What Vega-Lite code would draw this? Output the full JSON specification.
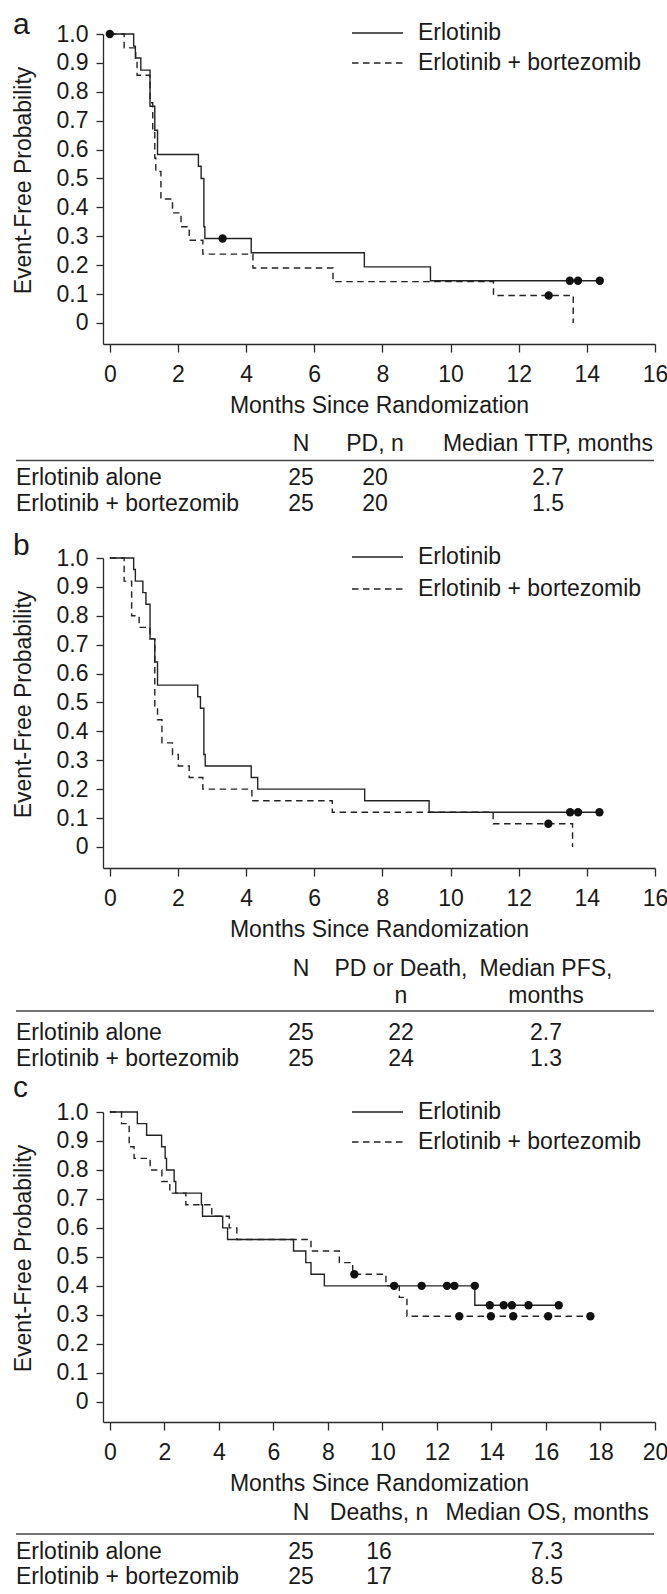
{
  "$schema": "https://vega.github.io/schema/vega-lite/v6.json",
  "padding": {"left": 12, "top": 10, "right": 0, "bottom": 0},
  "background": "white",
  "datasets": {
    "curves": [
      {"panel":"a","arm":"Erlotinib","t":0,"s":1},
      {"panel":"a","arm":"Erlotinib","t":0.70,"s":0.958},
      {"panel":"a","arm":"Erlotinib","t":0.75,"s":0.917},
      {"panel":"a","arm":"Erlotinib","t":0.91,"s":0.875},
      {"panel":"a","arm":"Erlotinib","t":1.18,"s":0.75},
      {"panel":"a","arm":"Erlotinib","t":1.32,"s":0.667},
      {"panel":"a","arm":"Erlotinib","t":1.40,"s":0.583},
      {"panel":"a","arm":"Erlotinib","t":2.60,"s":0.542},
      {"panel":"a","arm":"Erlotinib","t":2.68,"s":0.5},
      {"panel":"a","arm":"Erlotinib","t":2.76,"s":0.333},
      {"panel":"a","arm":"Erlotinib","t":2.79,"s":0.292},
      {"panel":"a","arm":"Erlotinib","t":4.15,"s":0.243},
      {"panel":"a","arm":"Erlotinib","t":7.47,"s":0.194},
      {"panel":"a","arm":"Erlotinib","t":9.41,"s":0.146},
      {"panel":"a","arm":"Erlotinib","t":14.38,"s":0.146},
      {"panel":"a","arm":"Erlotinib + bortezomib","t":0,"s":1},
      {"panel":"a","arm":"Erlotinib + bortezomib","t":0.42,"s":0.952},
      {"panel":"a","arm":"Erlotinib + bortezomib","t":0.76,"s":0.905},
      {"panel":"a","arm":"Erlotinib + bortezomib","t":0.80,"s":0.857},
      {"panel":"a","arm":"Erlotinib + bortezomib","t":1.18,"s":0.762},
      {"panel":"a","arm":"Erlotinib + bortezomib","t":1.26,"s":0.667},
      {"panel":"a","arm":"Erlotinib + bortezomib","t":1.32,"s":0.571},
      {"panel":"a","arm":"Erlotinib + bortezomib","t":1.35,"s":0.524},
      {"panel":"a","arm":"Erlotinib + bortezomib","t":1.50,"s":0.429},
      {"panel":"a","arm":"Erlotinib + bortezomib","t":1.84,"s":0.381},
      {"panel":"a","arm":"Erlotinib + bortezomib","t":2.09,"s":0.333},
      {"panel":"a","arm":"Erlotinib + bortezomib","t":2.33,"s":0.286},
      {"panel":"a","arm":"Erlotinib + bortezomib","t":2.73,"s":0.238},
      {"panel":"a","arm":"Erlotinib + bortezomib","t":4.20,"s":0.190},
      {"panel":"a","arm":"Erlotinib + bortezomib","t":6.55,"s":0.143},
      {"panel":"a","arm":"Erlotinib + bortezomib","t":11.26,"s":0.095},
      {"panel":"a","arm":"Erlotinib + bortezomib","t":13.60,"s":0},
      {"panel":"b","arm":"Erlotinib","t":0,"s":1},
      {"panel":"b","arm":"Erlotinib","t":0.70,"s":0.96},
      {"panel":"b","arm":"Erlotinib","t":0.75,"s":0.92},
      {"panel":"b","arm":"Erlotinib","t":0.97,"s":0.88},
      {"panel":"b","arm":"Erlotinib","t":1.06,"s":0.84},
      {"panel":"b","arm":"Erlotinib","t":1.18,"s":0.72},
      {"panel":"b","arm":"Erlotinib","t":1.32,"s":0.64},
      {"panel":"b","arm":"Erlotinib","t":1.40,"s":0.56},
      {"panel":"b","arm":"Erlotinib","t":2.58,"s":0.52},
      {"panel":"b","arm":"Erlotinib","t":2.66,"s":0.48},
      {"panel":"b","arm":"Erlotinib","t":2.76,"s":0.32},
      {"panel":"b","arm":"Erlotinib","t":2.80,"s":0.28},
      {"panel":"b","arm":"Erlotinib","t":4.15,"s":0.24},
      {"panel":"b","arm":"Erlotinib","t":4.34,"s":0.20},
      {"panel":"b","arm":"Erlotinib","t":7.48,"s":0.16},
      {"panel":"b","arm":"Erlotinib","t":9.37,"s":0.12},
      {"panel":"b","arm":"Erlotinib","t":14.37,"s":0.12},
      {"panel":"b","arm":"Erlotinib + bortezomib","t":0,"s":1},
      {"panel":"b","arm":"Erlotinib + bortezomib","t":0.42,"s":0.92},
      {"panel":"b","arm":"Erlotinib + bortezomib","t":0.64,"s":0.80},
      {"panel":"b","arm":"Erlotinib + bortezomib","t":0.86,"s":0.76},
      {"panel":"b","arm":"Erlotinib + bortezomib","t":1.18,"s":0.72},
      {"panel":"b","arm":"Erlotinib + bortezomib","t":1.32,"s":0.48},
      {"panel":"b","arm":"Erlotinib + bortezomib","t":1.40,"s":0.44},
      {"panel":"b","arm":"Erlotinib + bortezomib","t":1.53,"s":0.36},
      {"panel":"b","arm":"Erlotinib + bortezomib","t":1.84,"s":0.32},
      {"panel":"b","arm":"Erlotinib + bortezomib","t":2.01,"s":0.28},
      {"panel":"b","arm":"Erlotinib + bortezomib","t":2.33,"s":0.24},
      {"panel":"b","arm":"Erlotinib + bortezomib","t":2.73,"s":0.20},
      {"panel":"b","arm":"Erlotinib + bortezomib","t":4.17,"s":0.16},
      {"panel":"b","arm":"Erlotinib + bortezomib","t":6.53,"s":0.12},
      {"panel":"b","arm":"Erlotinib + bortezomib","t":11.25,"s":0.08},
      {"panel":"b","arm":"Erlotinib + bortezomib","t":13.58,"s":0},
      {"panel":"c","arm":"Erlotinib","t":0,"s":1},
      {"panel":"c","arm":"Erlotinib","t":1.01,"s":0.96},
      {"panel":"c","arm":"Erlotinib","t":1.35,"s":0.92},
      {"panel":"c","arm":"Erlotinib","t":1.90,"s":0.88},
      {"panel":"c","arm":"Erlotinib","t":2.03,"s":0.84},
      {"panel":"c","arm":"Erlotinib","t":2.08,"s":0.80},
      {"panel":"c","arm":"Erlotinib","t":2.36,"s":0.76},
      {"panel":"c","arm":"Erlotinib","t":2.42,"s":0.72},
      {"panel":"c","arm":"Erlotinib","t":3.36,"s":0.68},
      {"panel":"c","arm":"Erlotinib","t":3.40,"s":0.64},
      {"panel":"c","arm":"Erlotinib","t":4.14,"s":0.60},
      {"panel":"c","arm":"Erlotinib","t":4.32,"s":0.56},
      {"panel":"c","arm":"Erlotinib","t":6.74,"s":0.52},
      {"panel":"c","arm":"Erlotinib","t":7.19,"s":0.48},
      {"panel":"c","arm":"Erlotinib","t":7.38,"s":0.44},
      {"panel":"c","arm":"Erlotinib","t":7.87,"s":0.40},
      {"panel":"c","arm":"Erlotinib","t":13.39,"s":0.333},
      {"panel":"c","arm":"Erlotinib","t":16.47,"s":0.333},
      {"panel":"c","arm":"Erlotinib + bortezomib","t":0,"s":1},
      {"panel":"c","arm":"Erlotinib + bortezomib","t":0.43,"s":0.96},
      {"panel":"c","arm":"Erlotinib + bortezomib","t":0.71,"s":0.88},
      {"panel":"c","arm":"Erlotinib + bortezomib","t":0.89,"s":0.84},
      {"panel":"c","arm":"Erlotinib + bortezomib","t":1.48,"s":0.80},
      {"panel":"c","arm":"Erlotinib + bortezomib","t":1.91,"s":0.76},
      {"panel":"c","arm":"Erlotinib + bortezomib","t":2.20,"s":0.72},
      {"panel":"c","arm":"Erlotinib + bortezomib","t":2.79,"s":0.68},
      {"panel":"c","arm":"Erlotinib + bortezomib","t":3.74,"s":0.64},
      {"panel":"c","arm":"Erlotinib + bortezomib","t":4.38,"s":0.60},
      {"panel":"c","arm":"Erlotinib + bortezomib","t":4.66,"s":0.56},
      {"panel":"c","arm":"Erlotinib + bortezomib","t":7.38,"s":0.52},
      {"panel":"c","arm":"Erlotinib + bortezomib","t":8.42,"s":0.48},
      {"panel":"c","arm":"Erlotinib + bortezomib","t":8.91,"s":0.44},
      {"panel":"c","arm":"Erlotinib + bortezomib","t":10.13,"s":0.40},
      {"panel":"c","arm":"Erlotinib + bortezomib","t":10.62,"s":0.36},
      {"panel":"c","arm":"Erlotinib + bortezomib","t":10.90,"s":0.295},
      {"panel":"c","arm":"Erlotinib + bortezomib","t":17.63,"s":0.295}
    ],
    "censors": [
      {"panel":"a","arm":"Erlotinib","t":0,"s":1},
      {"panel":"a","arm":"Erlotinib","t":3.31,"s":0.292},
      {"panel":"a","arm":"Erlotinib","t":13.50,"s":0.146},
      {"panel":"a","arm":"Erlotinib","t":13.74,"s":0.146},
      {"panel":"a","arm":"Erlotinib","t":14.38,"s":0.146},
      {"panel":"a","arm":"Erlotinib + bortezomib","t":12.88,"s":0.095},
      {"panel":"b","arm":"Erlotinib","t":13.51,"s":0.12},
      {"panel":"b","arm":"Erlotinib","t":13.74,"s":0.12},
      {"panel":"b","arm":"Erlotinib","t":14.37,"s":0.12},
      {"panel":"b","arm":"Erlotinib + bortezomib","t":12.87,"s":0.08},
      {"panel":"c","arm":"Erlotinib","t":10.43,"s":0.40},
      {"panel":"c","arm":"Erlotinib","t":11.44,"s":0.40},
      {"panel":"c","arm":"Erlotinib","t":12.37,"s":0.40},
      {"panel":"c","arm":"Erlotinib","t":12.64,"s":0.40},
      {"panel":"c","arm":"Erlotinib","t":13.39,"s":0.40},
      {"panel":"c","arm":"Erlotinib","t":13.94,"s":0.333},
      {"panel":"c","arm":"Erlotinib","t":14.45,"s":0.333},
      {"panel":"c","arm":"Erlotinib","t":14.75,"s":0.333},
      {"panel":"c","arm":"Erlotinib","t":15.36,"s":0.333},
      {"panel":"c","arm":"Erlotinib","t":16.47,"s":0.333},
      {"panel":"c","arm":"Erlotinib + bortezomib","t":8.97,"s":0.44},
      {"panel":"c","arm":"Erlotinib + bortezomib","t":12.82,"s":0.295},
      {"panel":"c","arm":"Erlotinib + bortezomib","t":13.98,"s":0.295},
      {"panel":"c","arm":"Erlotinib + bortezomib","t":14.80,"s":0.295},
      {"panel":"c","arm":"Erlotinib + bortezomib","t":16.08,"s":0.295},
      {"panel":"c","arm":"Erlotinib + bortezomib","t":17.63,"s":0.295}
    ],
    "tables": [
      {"panel":"a","line":0,"col":1,"text":"N"},
      {"panel":"a","line":0,"col":2,"text":"PD, n"},
      {"panel":"a","line":0,"col":3,"text":"Median TTP, months"},
      {"panel":"a","line":2,"col":0,"text":"Erlotinib alone"},
      {"panel":"a","line":2,"col":1,"text":"25"},
      {"panel":"a","line":2,"col":2,"text":"20"},
      {"panel":"a","line":2,"col":3,"text":"2.7"},
      {"panel":"a","line":3,"col":0,"text":"Erlotinib + bortezomib"},
      {"panel":"a","line":3,"col":1,"text":"25"},
      {"panel":"a","line":3,"col":2,"text":"20"},
      {"panel":"a","line":3,"col":3,"text":"1.5"},
      {"panel":"b","line":-1,"col":1,"text":"N"},
      {"panel":"b","line":-1,"col":2,"text":"PD or Death,"},
      {"panel":"b","line":-1,"col":3,"text":"Median PFS,"},
      {"panel":"b","line":0,"col":2,"text":"n"},
      {"panel":"b","line":0,"col":3,"text":"months"},
      {"panel":"b","line":2,"col":0,"text":"Erlotinib alone"},
      {"panel":"b","line":2,"col":1,"text":"25"},
      {"panel":"b","line":2,"col":2,"text":"22"},
      {"panel":"b","line":2,"col":3,"text":"2.7"},
      {"panel":"b","line":3,"col":0,"text":"Erlotinib + bortezomib"},
      {"panel":"b","line":3,"col":1,"text":"25"},
      {"panel":"b","line":3,"col":2,"text":"24"},
      {"panel":"b","line":3,"col":3,"text":"1.3"},
      {"panel":"c","line":0,"col":1,"text":"N"},
      {"panel":"c","line":0,"col":2,"text":"Deaths, n"},
      {"panel":"c","line":0,"col":3,"text":"Median OS, months"},
      {"panel":"c","line":2,"col":0,"text":"Erlotinib alone"},
      {"panel":"c","line":2,"col":1,"text":"25"},
      {"panel":"c","line":2,"col":2,"text":"16"},
      {"panel":"c","line":2,"col":3,"text":"7.3"},
      {"panel":"c","line":3,"col":0,"text":"Erlotinib + bortezomib"},
      {"panel":"c","line":3,"col":1,"text":"25"},
      {"panel":"c","line":3,"col":2,"text":"17"},
      {"panel":"c","line":3,"col":3,"text":"8.5"}
    ]
  },
  "vconcat": [
    {
      "width": 552, "height": 310,
      "title": {"text": "a", "anchor": "start", "frame": "group", "dx": -90, "dy": 46, "offset": 0, "fontSize": 30, "fontWeight": "normal", "baseline": "alphabetic", "color": "#1a1a1a"},
      "layer": [
        {
          "data": {"name": "curves"},
          "transform": [{"filter": "datum.panel == 'a'"}],
          "mark": {"type": "line", "interpolate": "step-after", "color": "#222", "strokeWidth": 1.4},
          "encoding": {
            "x": {"field": "t", "type": "quantitative", "scale": {"domain": [-0.2, 16], "nice": false, "zero": false},
                  "axis": {"values": [0,2,4,6,8,10,12,14,16], "tickCount": 9, "title": "Months Since Randomization", "titleY": 68.5, "titleBaseline": "alphabetic", "tickSize": 8, "labelPadding": 11, "labelFlush": false, "labelOverlap": false}},
            "y": {"field": "s", "type": "quantitative", "scale": {"domain": [-0.073, 1], "nice": false, "zero": false},
                  "axis": {"values": [0,0.1,0.2,0.3,0.4,0.5,0.6,0.7,0.8,0.9,1], "tickCount": 11, "labelExpr": "datum.value == 0 ? '0' : format(datum.value, '.1f')", "title": "Event-Free Probability", "titleX": -72.5, "titleY": 146, "titleAngle": -90, "titleAlign": "center", "titleBaseline": "alphabetic", "tickSize": 7, "labelPadding": 8, "labelOverlap": false}},
            "strokeDash": {"field": "arm", "type": "nominal",
                  "scale": {"domain": ["Erlotinib", "Erlotinib + bortezomib"], "range": [[1, 0], [6.5, 4.5]]},
                  "legend": {"orient": "none", "legendX": 248, "legendY": -16, "title": null, "symbolType": "stroke", "symbolSize": 2601, "symbolStrokeWidth": 1.3, "symbolStrokeColor": "#222", "clipHeight": 30, "rowPadding": 0, "labelOffset": 14, "padding": 0}}
          }
        },
        {
          "data": {"name": "censors"},
          "transform": [{"filter": "datum.panel == 'a'"}],
          "mark": {"type": "point", "filled": true, "size": 70, "color": "#111", "opacity": 1},
          "encoding": {
            "x": {"field": "t", "type": "quantitative"},
            "y": {"field": "s", "type": "quantitative"}
          }
        }
      ]
    },
    {
      "width": 552, "height": 214,
      "data": {"name": "tables"},
      "transform": [{"filter": "datum.panel == 'a'"}],
      "encoding": {
        "x": {"field": "col", "type": "quantitative", "scale": {"domain": [0,1,2,3,4], "range": [-87,198,272,445,551], "nice": false, "zero": false}, "axis": null},
        "y": {"field": "line", "type": "quantitative", "scale": {"domain": [0,1,2,3], "range": [99.5,116.5,134,160], "nice": false, "zero": false}, "axis": null}
      },
      "layer": [
        {"transform": [{"filter": "datum.col == 0"}], "mark": {"type": "text", "align": "left", "baseline": "middle"}, "encoding": {"text": {"field": "text"}}},
        {"transform": [{"filter": "datum.col > 0"}], "mark": {"type": "text", "align": "center", "baseline": "middle"}, "encoding": {"text": {"field": "text"}}},
        {"transform": [{"filter": "datum.col == 1 && datum.line == 0"}], "mark": {"type": "rule", "color": "#444", "strokeWidth": 1.5},
         "encoding": {"x": {"datum": 0, "type": "quantitative"}, "x2": {"datum": 4}, "y": {"datum": 1, "type": "quantitative"}}}
      ]
    },
    {
      "width": 552, "height": 310,
      "title": {"text": "b", "anchor": "start", "frame": "group", "dx": -90, "dy": 44, "offset": 0, "fontSize": 30, "fontWeight": "normal", "baseline": "alphabetic", "color": "#1a1a1a"},
      "layer": [
        {
          "data": {"name": "curves"},
          "transform": [{"filter": "datum.panel == 'b'"}],
          "mark": {"type": "line", "interpolate": "step-after", "color": "#222", "strokeWidth": 1.4},
          "encoding": {
            "x": {"field": "t", "type": "quantitative", "scale": {"domain": [-0.2, 16], "nice": false, "zero": false},
                  "axis": {"values": [0,2,4,6,8,10,12,14,16], "tickCount": 9, "title": "Months Since Randomization", "titleY": 68.5, "titleBaseline": "alphabetic", "tickSize": 8, "labelPadding": 11, "labelFlush": false, "labelOverlap": false}},
            "y": {"field": "s", "type": "quantitative", "scale": {"domain": [-0.073, 1], "nice": false, "zero": false},
                  "axis": {"values": [0,0.1,0.2,0.3,0.4,0.5,0.6,0.7,0.8,0.9,1], "tickCount": 11, "labelExpr": "datum.value == 0 ? '0' : format(datum.value, '.1f')", "title": "Event-Free Probability", "titleX": -72.5, "titleY": 146, "titleAngle": -90, "titleAlign": "center", "titleBaseline": "alphabetic", "tickSize": 7, "labelPadding": 8, "labelOverlap": false}},
            "strokeDash": {"field": "arm", "type": "nominal",
                  "scale": {"domain": ["Erlotinib", "Erlotinib + bortezomib"], "range": [[1, 0], [6.5, 4.5]]},
                  "legend": {"orient": "none", "legendX": 248, "legendY": -17, "title": null, "symbolType": "stroke", "symbolSize": 2601, "symbolStrokeWidth": 1.3, "symbolStrokeColor": "#222", "clipHeight": 32, "rowPadding": 0, "labelOffset": 14, "padding": 0}}
          }
        },
        {
          "data": {"name": "censors"},
          "transform": [{"filter": "datum.panel == 'b'"}],
          "mark": {"type": "point", "filled": true, "size": 70, "color": "#111", "opacity": 1},
          "encoding": {
            "x": {"field": "t", "type": "quantitative"},
            "y": {"field": "s", "type": "quantitative"}
          }
        }
      ]
    },
    {
      "width": 552, "height": 243.8,
      "data": {"name": "tables"},
      "transform": [{"filter": "datum.panel == 'b'"}],
      "encoding": {
        "x": {"field": "col", "type": "quantitative", "scale": {"domain": [0,1,2,3,4], "range": [-87,198,298,443,551], "nice": false, "zero": false}, "axis": null},
        "y": {"field": "line", "type": "quantitative", "scale": {"domain": [-1,0,1,2,3], "range": [101,128,143,165,191], "nice": false, "zero": false}, "axis": null}
      },
      "layer": [
        {"transform": [{"filter": "datum.col == 0"}], "mark": {"type": "text", "align": "left", "baseline": "middle"}, "encoding": {"text": {"field": "text"}}},
        {"transform": [{"filter": "datum.col > 0"}], "mark": {"type": "text", "align": "center", "baseline": "middle"}, "encoding": {"text": {"field": "text"}}},
        {"transform": [{"filter": "datum.col == 1 && datum.line == -1"}], "mark": {"type": "rule", "color": "#444", "strokeWidth": 1.5},
         "encoding": {"x": {"datum": 0, "type": "quantitative"}, "x2": {"datum": 4}, "y": {"datum": 1, "type": "quantitative"}}}
      ]
    },
    {
      "width": 552, "height": 310,
      "title": {"text": "c", "anchor": "start", "frame": "group", "dx": -90, "dy": 30, "offset": 0, "fontSize": 30, "fontWeight": "normal", "baseline": "alphabetic", "color": "#1a1a1a"},
      "layer": [
        {
          "data": {"name": "curves"},
          "transform": [{"filter": "datum.panel == 'c'"}],
          "mark": {"type": "line", "interpolate": "step-after", "color": "#222", "strokeWidth": 1.4},
          "encoding": {
            "x": {"field": "t", "type": "quantitative", "scale": {"domain": [-0.25, 20], "nice": false, "zero": false},
                  "axis": {"values": [0,2,4,6,8,10,12,14,16,18,20], "tickCount": 11, "title": "Months Since Randomization", "titleY": 68.5, "titleBaseline": "alphabetic", "tickSize": 8, "labelPadding": 11, "labelFlush": false, "labelOverlap": false}},
            "y": {"field": "s", "type": "quantitative", "scale": {"domain": [-0.07, 1], "nice": false, "zero": false},
                  "axis": {"values": [0,0.1,0.2,0.3,0.4,0.5,0.6,0.7,0.8,0.9,1], "tickCount": 11, "labelExpr": "datum.value == 0 ? '0' : format(datum.value, '.1f')", "title": "Event-Free Probability", "titleX": -72.5, "titleY": 146, "titleAngle": -90, "titleAlign": "center", "titleBaseline": "alphabetic", "tickSize": 7, "labelPadding": 8, "labelOverlap": false}},
            "strokeDash": {"field": "arm", "type": "nominal",
                  "scale": {"domain": ["Erlotinib", "Erlotinib + bortezomib"], "range": [[1, 0], [6.5, 4.5]]},
                  "legend": {"orient": "none", "legendX": 248, "legendY": -15, "title": null, "symbolType": "stroke", "symbolSize": 2601, "symbolStrokeWidth": 1.3, "symbolStrokeColor": "#222", "clipHeight": 30, "rowPadding": 0, "labelOffset": 14, "padding": 0}}
          }
        },
        {
          "data": {"name": "censors"},
          "transform": [{"filter": "datum.panel == 'c'"}],
          "mark": {"type": "point", "filled": true, "size": 70, "color": "#111", "opacity": 1},
          "encoding": {
            "x": {"field": "t", "type": "quantitative"},
            "y": {"field": "s", "type": "quantitative"}
          }
        }
      ]
    },
    {
      "width": 552, "height": 168,
      "data": {"name": "tables"},
      "transform": [{"filter": "datum.panel == 'c'"}],
      "encoding": {
        "x": {"field": "col", "type": "quantitative", "scale": {"domain": [0,1,2,3,4], "range": [-87,198,276,444,551], "nice": false, "zero": false}, "axis": null},
        "y": {"field": "line", "type": "quantitative", "scale": {"domain": [0,1,2,3], "range": [91,112,130,155], "nice": false, "zero": false}, "axis": null}
      },
      "layer": [
        {"transform": [{"filter": "datum.col == 0"}], "mark": {"type": "text", "align": "left", "baseline": "middle"}, "encoding": {"text": {"field": "text"}}},
        {"transform": [{"filter": "datum.col > 0"}], "mark": {"type": "text", "align": "center", "baseline": "middle"}, "encoding": {"text": {"field": "text"}}},
        {"transform": [{"filter": "datum.col == 1 && datum.line == 0"}], "mark": {"type": "rule", "color": "#444", "strokeWidth": 1.5},
         "encoding": {"x": {"datum": 0, "type": "quantitative"}, "x2": {"datum": 4}, "y": {"datum": 1, "type": "quantitative"}}}
      ]
    }
  ],
  "spacing": 0,
  "bounds": "flush",
  "resolve": {"scale": {"strokeDash": "independent"}, "legend": {"strokeDash": "independent"}},
  "config": {
    "font": "Liberation Sans",
    "view": {"stroke": null},
    "axis": {"labelFontSize": 23, "titleFontSize": 23, "titleFontWeight": "normal", "labelColor": "#1a1a1a", "titleColor": "#1a1a1a", "domainColor": "#2a2a2a", "tickColor": "#2a2a2a", "domainWidth": 1.3, "tickWidth": 1.3, "grid": false, "labelFont": "Liberation Sans", "titleFont": "Liberation Sans"},
    "legend": {"labelFontSize": 23, "labelFont": "Liberation Sans", "labelColor": "#1a1a1a", "labelLimit": 400},
    "text": {"font": "Liberation Sans", "fontSize": 23, "color": "#1a1a1a"},
    "title": {"font": "Liberation Sans"}
  }
}
